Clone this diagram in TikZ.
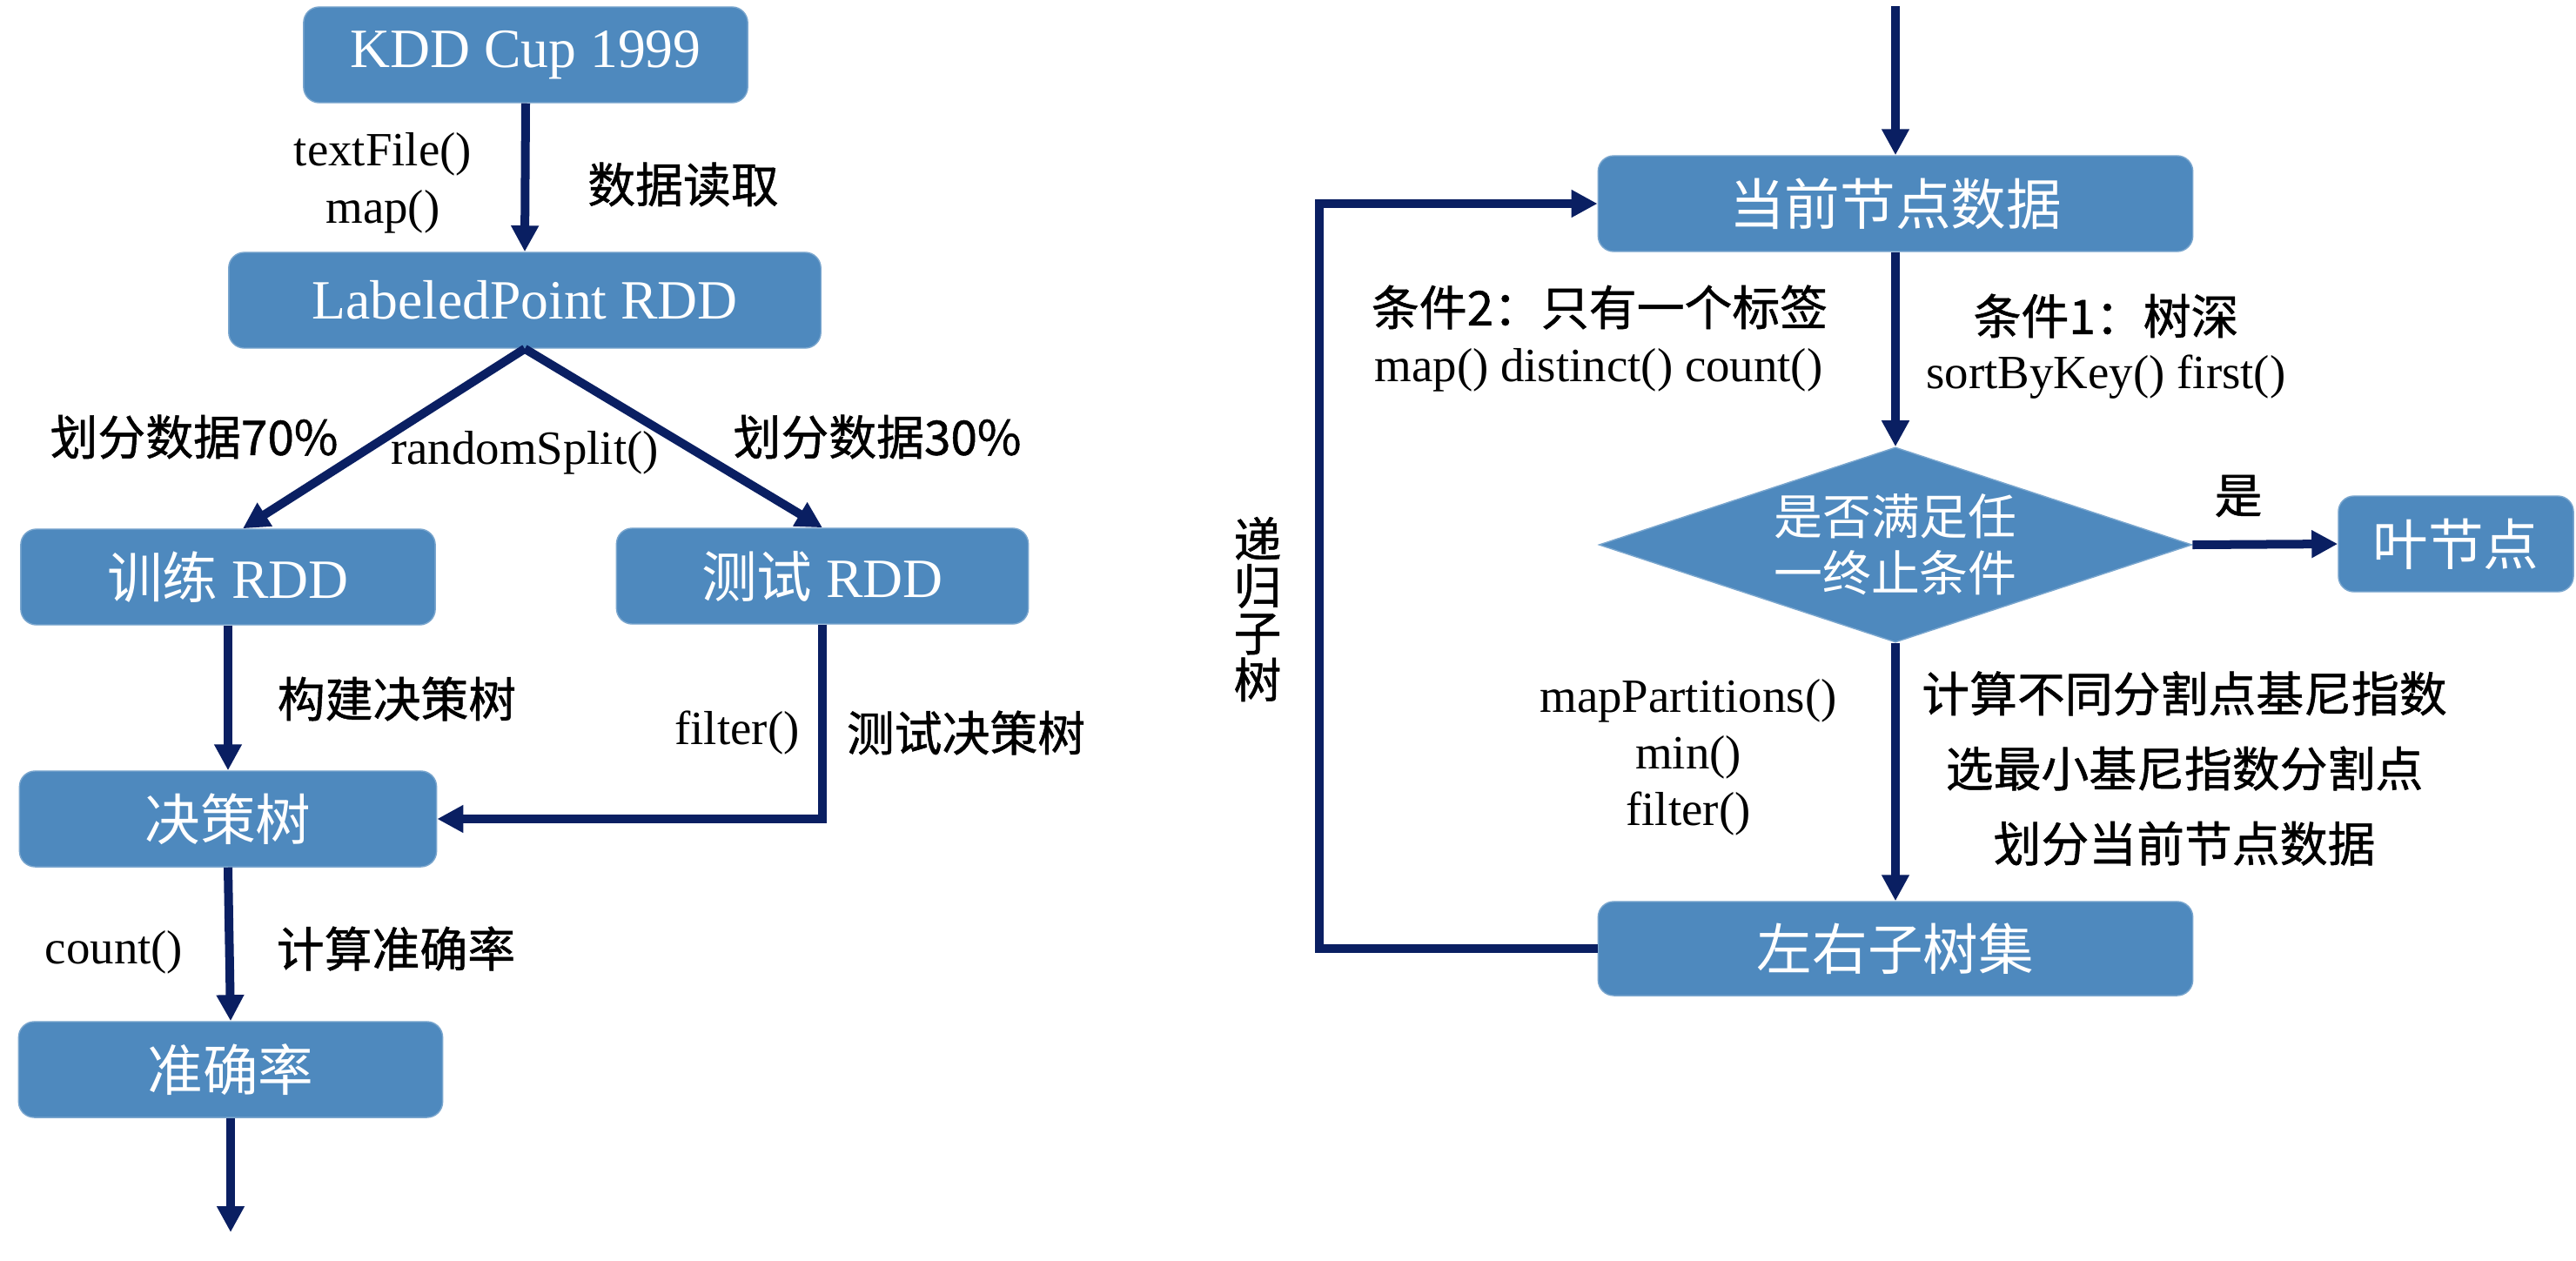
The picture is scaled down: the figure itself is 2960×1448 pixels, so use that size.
\documentclass[tikz,border=0pt]{standalone}
\usepackage{fontspec}
\setmainfont{Liberation Serif}
\newfontfamily\cjk{Noto Sans CJK SC}
\newfontfamily\cjkm{Noto Sans CJK SC}[FakeBold=0.9]
\usetikzlibrary{arrows.meta,shapes.geometric}
\definecolor{boxblue}{HTML}{4E89BE}
\definecolor{navy}{HTML}{0A1F62}
\newcommand\boxfont{\fontsize{18.1pt}{22pt}\selectfont}
\newcommand\lblfont{\fontsize{15.6pt}{18.8pt}\selectfont}
\tikzset{
  blk/.style={rectangle, rounded corners=0.18cm, fill=boxblue, draw=boxblue!75!white,
    line width=0.4pt, text=white, font=\boxfont, inner sep=0pt, minimum height=1.1cm},
  dec/.style={diamond, aspect=3.04, fill=boxblue, draw=boxblue!75!white, line width=0.4pt,
    text=white, inner sep=0pt, minimum width=6.81cm, minimum height=2.24cm, align=center,
    font=\fontsize{15.9pt}{18.5pt}\selectfont\cjk},
  arr/.style={draw=navy, line width=0.1cm, -{Triangle[length=0.3cm,width=0.3cm]}},
  lbl/.style={font=\lblfont, align=center, inner sep=0pt},
  zlbl/.style={lbl, font=\lblfont\cjkm},
}
\begin{document}
\begin{tikzpicture}[x=0.01cm, y=-0.01cm]
\useasboundingbox (0,0) rectangle (2960,1448);

% ---------- left flow: data preparation, training and evaluation ----------
\node[blk, minimum width=5.10cm] (kdd) at (604,63) {KDD Cup 1999};
\node[blk, minimum width=6.80cm] (lp)  at (603,345) {LabeledPoint RDD};
\node[blk, minimum width=4.76cm] (tr)  at (262,663) {{\cjk 训练} RDD};
\node[blk, minimum width=4.73cm] (te)  at (945,662) {{\cjk 测试} RDD};
\node[blk, minimum width=4.79cm] (dt)  at (262,941) {\cjk 决策树};
\node[blk, minimum width=4.87cm] (acc) at (265,1229) {\cjk 准确率};
\coordinate (accout) at (265,1416);

\draw[arr] (kdd.south) -- (lp.north);
\draw[arr] (lp.south) -- ([xshift=0.17cm]tr.north);
\draw[arr] (lp.south) -- (te.north);
\draw[arr] (tr.south) -- (dt.north);
\draw[arr] (te.south) |- (dt.east);
\draw[arr] (dt.south) -- (acc.north);
\draw[arr] (acc.south) -- (accout);

\node[lbl] (l1) at (440,210) {textFile()\\map()};
\node[zlbl] (l2) at (785,212) {数据读取};
\node[zlbl] (l3) at (223,502) {划分数据70\%};
\node[lbl] (l4) at (603,520) {randomSplit()};
\node[zlbl] (l5) at (1008,502) {划分数据30\%};
\node[zlbl] (l6) at (456,803) {构建决策树};
\node[lbl] (l7) at (847,842) {filter()};
\node[zlbl] (l8) at (1110,842) {测试决策树};
\node[lbl] (l9) at (131,1094) {count()};
\node[zlbl] (l10) at (455,1090) {计算准确率};

% ---------- right flow: recursive tree construction ----------
\coordinate (curin) at (2178,7);
\node[blk, minimum width=6.83cm] (cur)  at (2178,234) {\cjk 当前节点数据};
\node[dec] (dia) at (2178,626) {是否满足任\\一终止条件};
\node[blk, minimum width=2.70cm] (leaf) at (2822,625) {\cjk 叶节点};
\node[blk, minimum width=6.83cm, minimum height=1.08cm] (lr) at (2178,1090) {\cjk 左右子树集};
\coordinate (loop) at (1516,1090);

\draw[arr] (curin) -- (cur.north);
\draw[arr] (cur.south) -- (dia.north);
\draw[arr] (dia.east) -- (leaf.west);
\draw[arr] (dia.south) -- (lr.north);
\draw[arr] (lr.west) -- (loop) |- (cur.west);

\node[zlbl] (c2) at (1838,353) {条件2：只有一个标签};
\node[lbl] (c2f) at (1837,425) {map() distinct() count()};
\node[zlbl] (c1) at (2420,363) {条件1：树深};
\node[lbl] (c1f) at (2420,433) {sortByKey() first()};
\node[zlbl] (yes) at (2572,570) {是};
\node[zlbl, font=\fontsize{15.6pt}{15.3pt}\selectfont\cjkm] (rec) at (1445,700) {递\\归\\子\\树};
\node[lbl, font=\fontsize{15.6pt}{18.5pt}\selectfont] (ops) at (1940,870) {mapPartitions()\\min()\\filter()};
\node[zlbl, font=\fontsize{15.6pt}{24.5pt}\selectfont\cjkm] (steps) at (2510,883)
  {计算不同分割点基尼指数\\选最小基尼指数分割点\\划分当前节点数据};
\end{tikzpicture}
\end{document}
